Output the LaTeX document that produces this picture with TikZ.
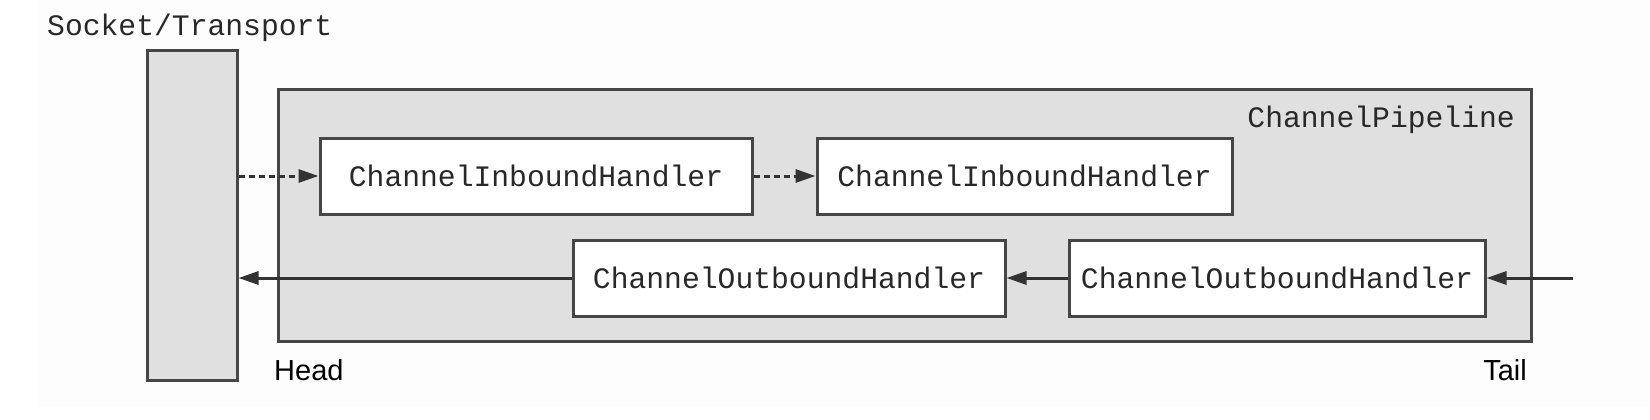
\documentclass[tikz,border=0pt]{standalone}
\usepackage{fontspec}
\setmainfont{Liberation Sans}
\newfontfamily\codefont{Liberation Mono}
\usetikzlibrary{arrows.meta}
\definecolor{boxgray}{RGB}{224,224,224}
\definecolor{edgegray}{RGB}{70,70,70}
\definecolor{textgray}{RGB}{40,40,40}
\tikzset{
  code/.style={font=\codefont\fontsize{29.7}{32}\selectfont, text=textgray, inner sep=0pt},
  label/.style={font=\fontsize{29}{32}\selectfont, text=black, inner sep=0pt},
  graybox/.style={draw=edgegray, line width=3pt, fill=boxgray, inner sep=0pt},
  handler/.style={draw=edgegray, line width=3pt, fill=white, inner sep=0pt,
    minimum height=76pt, code},
  flow/.style={draw=black!80, line width=3pt, -{Triangle[length=20pt,width=13pt]}},
  dflow/.style={flow, dash pattern=on 6pt off 4pt}
}
\begin{document}
\begin{tikzpicture}[x=1pt,y=-1pt]
\useasboundingbox (0,0) rectangle (1650,420);
\fill[white!99.3!black] (37,0) rectangle (1650,407);
\node[code, anchor=base west] (socklabel) at (47,36) {Socket/Transport};
\node[graybox, minimum width=90pt, minimum height=329pt] (sock) at (192,215.5) {};
\node[graybox, minimum width=1253pt, minimum height=251pt] (pipe) at (904.5,215.5) {};
\node[code, anchor=base east] (pipelabel) at (1515,127) {ChannelPipeline};
\node[handler, minimum width=432pt] (in1) at (536,176) {ChannelInboundHandler};
\node[handler, minimum width=415pt] (in2) at (1024.5,176) {ChannelInboundHandler};
\node[handler, minimum width=432pt] (out1) at (789,278) {ChannelOutboundHandler};
\node[handler, minimum width=416pt] (out2) at (1277,278) {ChannelOutboundHandler};
\node[label, anchor=base west] (head) at (274,380) {Head};
\node[label, anchor=base east] (tail) at (1527,380) {Tail};
\coordinate (src) at (1573,278);
\draw[dflow] (sock.east |- in1) -- (in1.west);
\draw[dflow] (in1.east) -- (in2.west);
\draw[flow] (src) -- (out2.east);
\draw[flow] (out2.west) -- (out1.east);
\draw[flow] (out1.west) -- (sock.east |- out1);
\end{tikzpicture}
\end{document}
